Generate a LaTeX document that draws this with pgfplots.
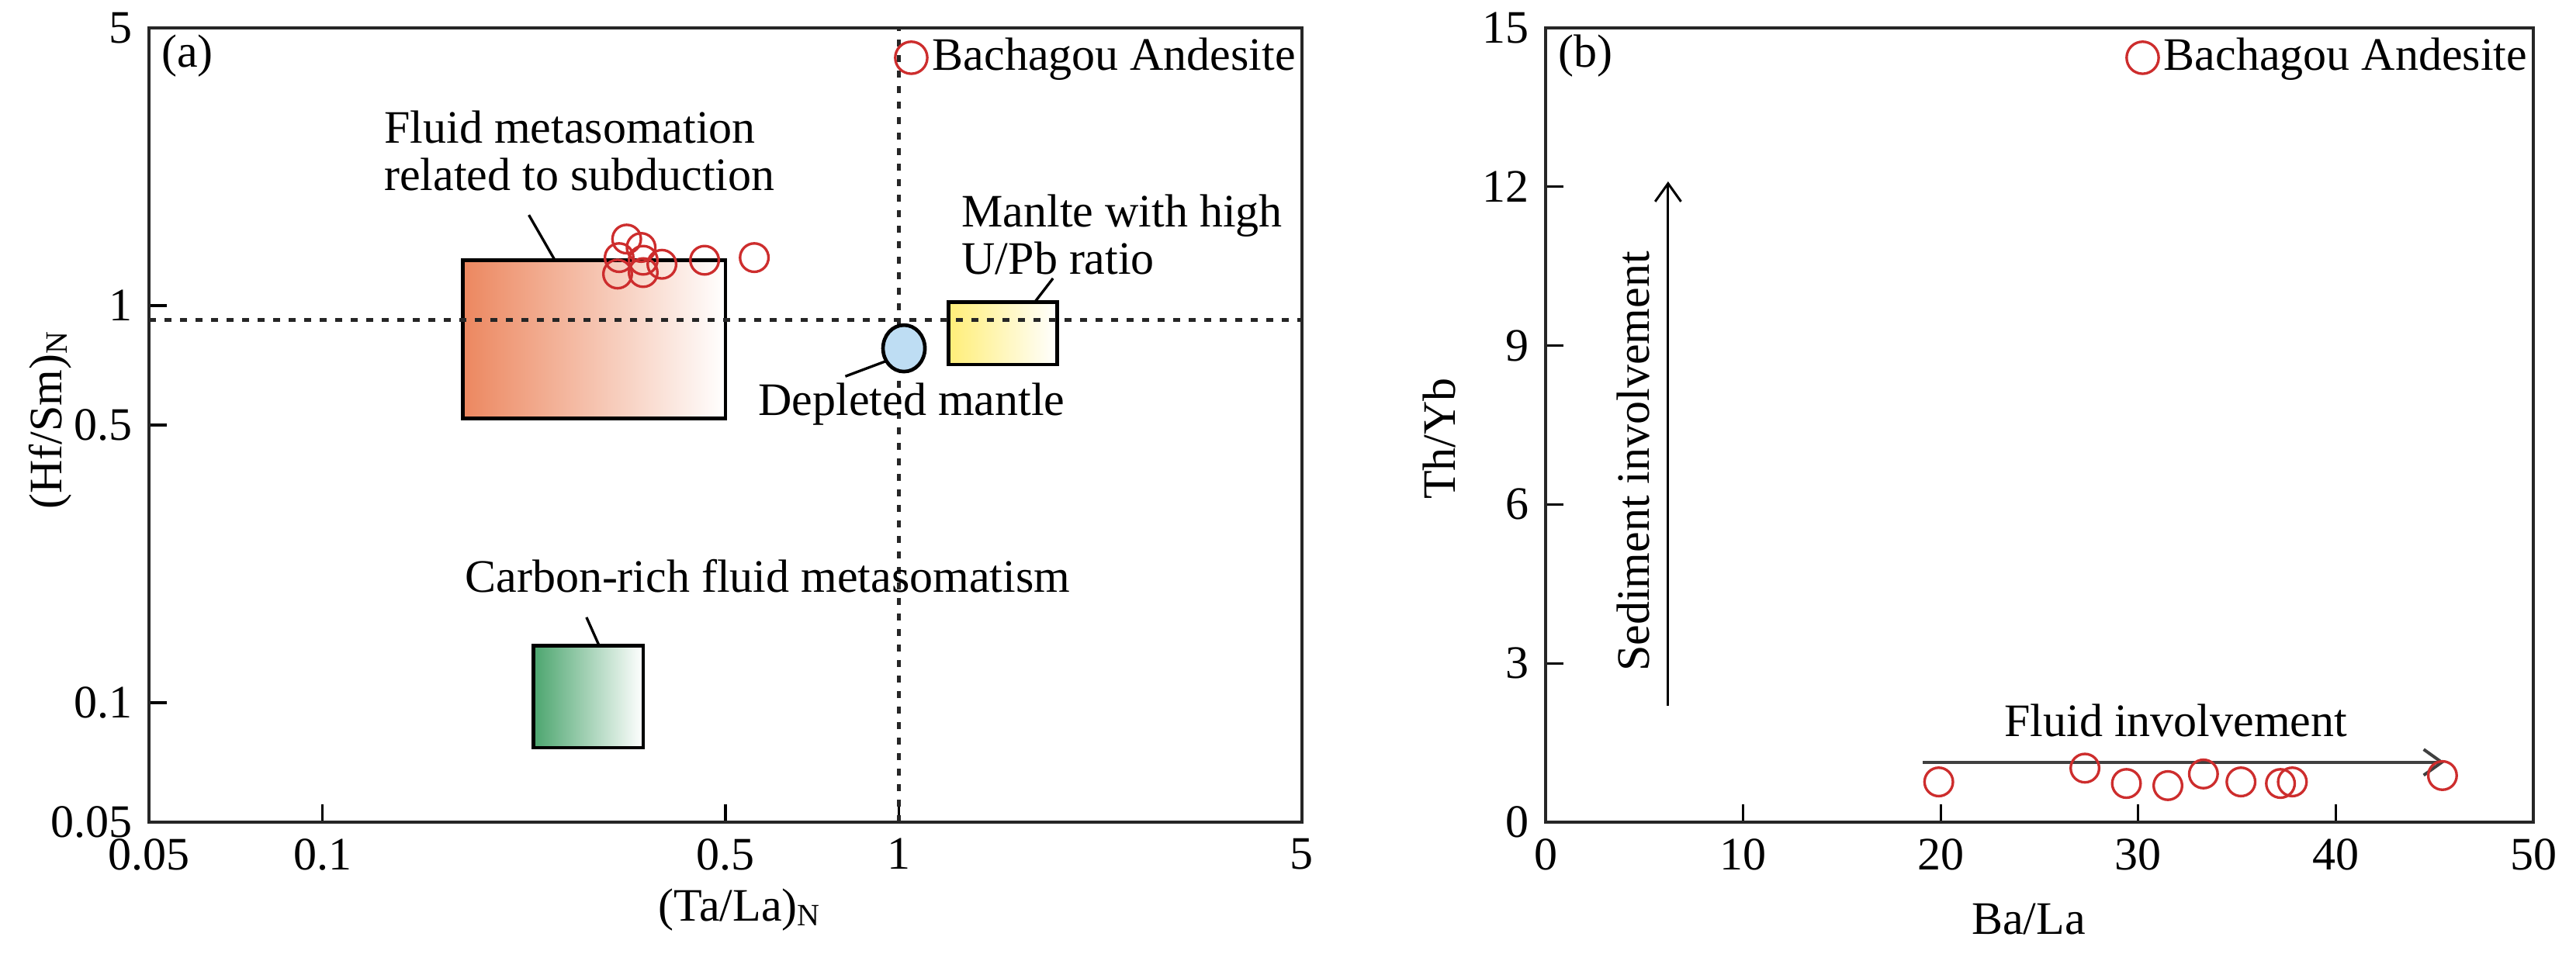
\documentclass[border=0pt]{standalone}
\usepackage{fontspec}
\setmainfont{Liberation Serif}
\usepackage{pgfplots}
\pgfplotsset{compat=1.18}
\usetikzlibrary{arrows.meta}
\definecolor{ptred}{RGB}{205,45,45}
\definecolor{orangeL}{RGB}{236,135,95}
\definecolor{yellowL}{RGB}{255,238,120}
\definecolor{blueL}{RGB}{190,221,243}
\definecolor{greenL}{RGB}{75,165,110}
\pgfplotsset{
  myaxis/.style={
    scale only axis,
    axis line style={line width=0.65pt, black!85},
    tick align=inside,
    major tick length=3.5pt,
    xtick pos=left, ytick pos=left,
    /pgf/number format/assume math mode=true,
    tick style={line width=0.5pt, black},
    legend style={draw=none, fill=none, at={(axis description cs:1.0,0.995)}, anchor=north east,
      inner sep=0pt, nodes={inner sep=1pt}},
    legend image code/.code={\draw[mark repeat=2, mark phase=2, ##1, mark size=3.1pt]
      plot coordinates {(0cm,0cm) (0.2cm,0cm)};},
  },
  pts/.style={only marks, mark=o, mark size=2.75pt, ptred, line width=0.5pt},
  dashln/.style={black!85, line width=0.75pt, dash pattern=on 1.4pt off 1.6pt, forget plot},
  field/.style={draw=black, line width=0.7pt, right color=white, forget plot},
}
\begin{document}
\fontsize{9}{9.2}\selectfont
\begin{tikzpicture}
\useasboundingbox (0,0) rectangle (498pt,184.5pt);
% ---------------- panel (a) ----------------
\begin{axis}[myaxis,
  at={(28.8pt,25.5pt)}, anchor=south west,
  width=222.9pt, height=153.6pt,
  xmode=log, ymode=log,
  xmin=0.05, xmax=5, ymin=0.05, ymax=5,
  xtick={0.05,0.1,0.5,1,5}, xticklabels={0.05,0.1,0.5,1,5},
  ytick={0.05,0.1,0.5,1,5}, yticklabels={0.05,0.1,0.5,1,5},
  minor xtick={}, minor ytick={},
  xlabel={(Ta/La)\textsubscript{N}}, ylabel={(Hf/Sm)\textsubscript{N}},
  xlabel style={at={(axis description cs:0.513,-0.110)}, anchor=center},
  ylabel style={at={(axis description cs:-0.0855,0.507)}, anchor=center},
]
% fields
\addplot[field, left color=orangeL, right color=white]
  coordinates {(0.175,0.52) (0.5,0.52) (0.5,1.3) (0.175,1.3)} -- cycle;
\addplot[field, left color=yellowL, right color=white]
  coordinates {(1.22,0.71) (1.88,0.71) (1.88,1.02) (1.22,1.02)} -- cycle;
\addplot[field, left color=greenL, right color=white]
  coordinates {(0.232,0.077) (0.36,0.077) (0.36,0.139) (0.232,0.139)} -- cycle;
\addplot[only marks, mark=*, mark size=4.5pt, forget plot,
  mark options={xscale=0.9, fill=blueL, draw=black, line width=0.7pt}]
  coordinates {(1.02,0.78)};
% reference lines
\addplot[dashln] coordinates {(1,0.05) (1,5)};
\addplot[dashln] coordinates {(0.05,0.92) (5,0.92)};
% leader lines
\draw[line width=0.5pt] (axis cs:0.253,1.3) -- (axis cs:0.228,1.69);
\draw[line width=0.5pt] (axis cs:1.72,1.02) -- (axis cs:1.85,1.17);
\draw[line width=0.5pt] (axis cs:0.946,0.723) -- (axis cs:0.807,0.663);
\draw[line width=0.5pt] (axis cs:0.302,0.139) -- (axis cs:0.287,0.164);
% labels
\node[anchor=west, align=left, inner sep=0pt] at (axis cs:0.1275,2.45) {Fluid metasomation\\related to subduction};
\node[anchor=west, align=left, inner sep=0pt] at (axis cs:1.28,1.51) {Manlte with high\\U/Pb ratio};
\node[anchor=west, inner sep=0pt] at (axis cs:0.568,0.565) {Depleted mantle};
\node[anchor=west, inner sep=0pt] at (axis cs:0.176,0.208) {Carbon-rich fluid metasomatism};
\node[anchor=west, inner sep=0pt] at (axis description cs:0.0101,0.965) {(a)};
% samples
\addplot[pts] coordinates {(0.337,1.47) (0.327,1.32) (0.325,1.20) (0.357,1.40)
  (0.36,1.30) (0.36,1.21) (0.388,1.27) (0.46,1.30) (0.561,1.32)};
\addlegendentry{Bachagou Andesite}
\end{axis}
% ---------------- panel (b) ----------------
\begin{axis}[myaxis,
  at={(298.8pt,25.5pt)}, anchor=south west,
  width=190.95pt, height=153.6pt,
  xmin=0, xmax=50, ymin=0, ymax=15,
  xtick={0,10,...,50}, ytick={0,3,...,15},
  xlabel={Ba/La}, ylabel={Th/Yb},
  xlabel style={at={(axis description cs:0.489,-0.122)}, anchor=center},
  ylabel style={at={(axis description cs:-0.1076,0.483)}, anchor=center},
]
\draw[-{Straight Barb[length=3.5pt,width=5pt]}, line width=0.6pt, black!75]
  (axis cs:19.1,1.13) -- (axis cs:45.5,1.13);
\draw[-{Straight Barb[length=3.5pt,width=5pt]}, line width=0.45pt, black]
  (axis cs:6.2,2.2) -- (axis cs:6.2,12.1);
\node at (axis cs:31.9,1.92) {Fluid involvement};
\node[rotate=90] at (axis cs:4.44,6.81) {Sediment involvement};
\node[anchor=west, inner sep=0pt] at (axis description cs:0.0118,0.965) {(b)};
\addplot[pts] coordinates {(19.9,0.76) (27.3,1.02) (29.4,0.73) (31.5,0.69) (33.3,0.91)
  (35.2,0.76) (37.2,0.73) (37.8,0.76) (45.4,0.88)};
\addlegendentry{Bachagou Andesite}
\end{axis}
\end{tikzpicture}
\end{document}
